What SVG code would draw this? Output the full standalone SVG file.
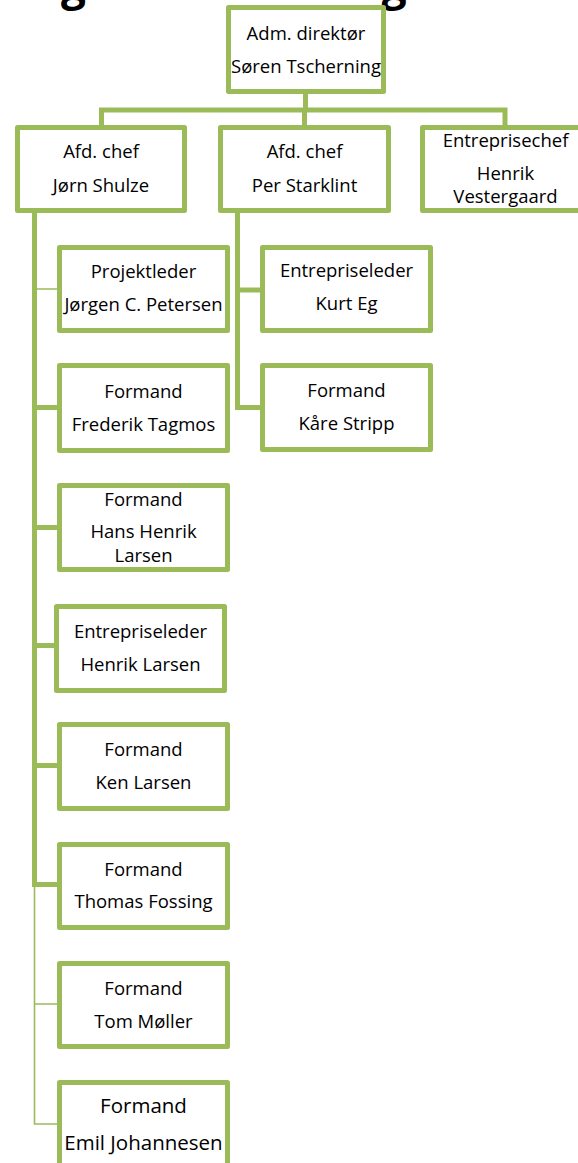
<svg xmlns="http://www.w3.org/2000/svg" width="578" height="1163" viewBox="0 0 578 1163">
<style>
.box{fill:#fff;stroke:#9BBB59;stroke-width:5;stroke-linejoin:round}
.c{fill:none;stroke:#9BBB59;stroke-width:5;stroke-linejoin:miter}
.t{fill:none;stroke:#9BBB59;stroke-width:1.6}
text{font-family:"Open Sans","Noto Sans",sans-serif;font-size:18.5px;fill:#000;text-anchor:middle}
.title{font-weight:bold;font-size:44px;text-anchor:start}
.big{font-size:20.5px}
</style>
<rect width="578" height="1163" fill="#fff"/>
<text class="title" x="6" y="0">Organisationsdiagram</text>
<g id="connectors">
<path class="c" d="M305.5 94 V110"/>
<path class="c" d="M101.5 125 V110 H505 V125"/>
<path class="c" d="M304.5 110 V125"/>
<path class="c" d="M34.5 213 V884.5 H57"/>
<path class="c" d="M34.5 407.5 H57 M34.5 527.5 H57 M34.5 645.5 H54 M34.5 765.5 H57"/>
<path class="t" d="M34.5 289 H57 M34.5 884.5 V1124 H57 M34.5 1004 H57"/>
<path class="c" d="M237.5 213 V407.5 H260 M237.5 290 H260"/>
</g>
<g id="n-top"><rect class="box" x="228.5" y="7.5" width="155" height="84"/><text x="306" y="40">Adm. direktør</text><text x="306" y="73">Søren Tscherning</text></g>
<g id="n-jorn"><rect class="box" x="17.5" y="127.5" width="167" height="83"/><text x="101" y="158">Afd. chef</text><text x="101" y="192">Jørn Shulze</text></g>
<g id="n-per"><rect class="box" x="220.5" y="127.5" width="168" height="83"/><text x="304.5" y="158">Afd. chef</text><text x="304.5" y="192">Per Starklint</text></g>
<g id="n-vestergaard"><rect class="box" x="422.5" y="127.5" width="168" height="83"/><text x="505.5" y="147">Entreprisechef</text><text x="505.5" y="180">Henrik</text><text x="505.5" y="203">Vestergaard</text></g>
<g id="n-kurt"><rect class="box" x="262.5" y="247.5" width="168" height="83"/><text x="346.5" y="277">Entrepriseleder</text><text x="346.5" y="310">Kurt Eg</text></g>
<g id="n-kare"><rect class="box" x="262.5" y="365.5" width="168" height="84"/><text x="346.5" y="397">Formand</text><text x="346.5" y="430">Kåre Stripp</text></g>
<g id="n-jorgen"><rect class="box" x="59.5" y="247.5" width="168" height="83"/><text x="143.5" y="278">Projektleder</text><text x="143.5" y="311">Jørgen C. Petersen</text></g>
<g id="n-frederik"><rect class="box" x="59.5" y="365.5" width="168" height="85"/><text x="143.5" y="398">Formand</text><text x="143.5" y="431">Frederik Tagmos</text></g>
<g id="n-hans"><rect class="box" x="59.5" y="485.5" width="168" height="84"/><text x="143.5" y="506">Formand</text><text x="143.5" y="538">Hans Henrik</text><text x="143.5" y="562">Larsen</text></g>
<g id="n-henrik"><rect class="box" x="56.5" y="606.5" width="168" height="84"/><text x="140.5" y="638">Entrepriseleder</text><text x="140.5" y="671">Henrik Larsen</text></g>
<g id="n-ken"><rect class="box" x="59.5" y="724.5" width="168" height="84"/><text x="143.5" y="756">Formand</text><text x="143.5" y="789">Ken Larsen</text></g>
<g id="n-thomas"><rect class="box" x="59.5" y="844.5" width="168" height="83"/><text x="143.5" y="876">Formand</text><text x="143.5" y="908">Thomas Fossing</text></g>
<g id="n-tom"><rect class="box" x="59.5" y="963.5" width="168" height="83"/><text x="143.5" y="995">Formand</text><text x="143.5" y="1028">Tom Møller</text></g>
<g id="n-emil"><rect class="box" x="59.5" y="1082.5" width="168" height="90"/><text class="big" x="143.5" y="1113">Formand</text><text class="big" x="143.5" y="1150">Emil Johannesen</text></g>
</svg>
